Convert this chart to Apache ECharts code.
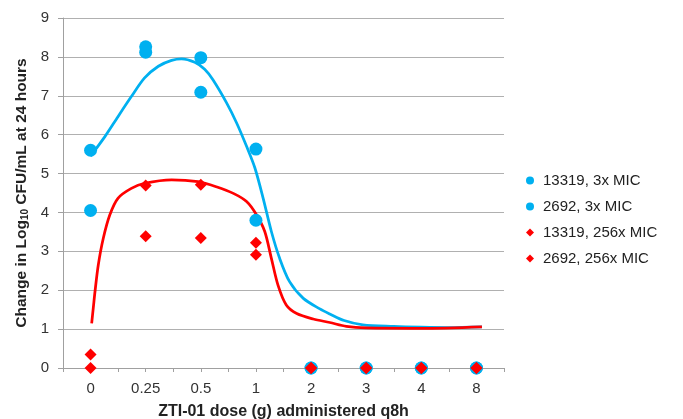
<!DOCTYPE html>
<html>
<head>
<meta charset="utf-8">
<script src="https://cdn.jsdelivr.net/npm/echarts@6/dist/echarts.min.js"></script>
<style>
  html, body { margin: 0; padding: 0; background: #ffffff; }
  #chart { width: 683px; height: 419px; }
</style>
</head>
<body>
<div id="chart"></div>
<script>
// Dose levels shown on the x axis (plotted at evenly spaced positions 0..7)
const doseLabels = ['0', '0.25', '0.5', '1', '2', '3', '4', '8'];
const dosePos = [0, 1, 2, 3, 4, 5, 6, 7];

// Measured change in log10 CFU/mL per dose level
const s13319_3x   = [5.60, 8.26, 7.98, 5.63, 0, 0, 0, 0];
const s2692_3x    = [4.05, 8.12, 7.09, 3.80, 0, 0, 0, 0];
const s13319_256x = [0.35, 4.69, 4.71, 3.22, 0, 0, 0, 0];
const s2692_256x  = [0.00, 3.39, 3.34, 2.91, 0, 0, 0, 0];

// Fitted response curves: [dose position, value]
const fit3x = [
  [0, 5.45], [0.26, 5.95], [0.5, 6.47], [0.74, 6.98], [0.98, 7.46], [1.23, 7.76],
  [1.47, 7.91], [1.65, 7.95], [1.89, 7.86], [2.07, 7.68], [2.22, 7.41], [2.47, 6.81],
  [2.65, 6.30], [2.83, 5.70], [2.98, 5.15], [3.13, 4.37], [3.28, 3.51], [3.43, 2.82],
  [3.61, 2.22], [3.86, 1.79], [4.16, 1.52], [4.34, 1.39], [4.6, 1.22], [4.94, 1.11],
  [5.5, 1.07], [6.0, 1.05], [6.5, 1.04], [7.1, 1.06]
];
const fit256x = [
  [0.02, 1.15], [0.05, 1.55], [0.08, 1.96], [0.14, 2.65], [0.23, 3.33], [0.35, 3.94],
  [0.5, 4.37], [0.74, 4.62], [0.98, 4.75], [1.47, 4.84], [1.95, 4.79], [2.28, 4.66],
  [2.59, 4.49], [2.83, 4.28], [3.01, 3.94], [3.16, 3.51], [3.28, 2.82], [3.40, 2.13],
  [3.55, 1.62], [3.74, 1.40], [4.04, 1.26], [4.34, 1.17], [4.64, 1.07], [5.0, 1.03],
  [6.0, 1.02], [7.1, 1.06]
];

const yTicks = { min: 0, max: 9, step: 1 };

const BLUE = '#00b0f0';
const RED = '#ff0000';
const FONT = '"Liberation Sans", Arial, sans-serif';

const pairs = vals => dosePos.map((p, i) => [p, vals[i]]);

const chart = echarts.init(document.getElementById('chart'), null, { renderer: 'canvas' });

chart.setOption({
  animation: false,
  backgroundColor: '#ffffff',
  textStyle: { fontFamily: FONT },
  grid: { left: 63, right: 179, top: 18, bottom: 51, containLabel: false, outerBoundsMode: 'none' },
  legend: {
    orient: 'vertical',
    left: 521,
    top: 168,
    itemWidth: 8,
    itemHeight: 8,
    itemGap: 11,
    textStyle: { fontFamily: FONT, fontSize: 15, color: '#222', padding: [0, 0, 0, 4] },
    data: [
      { name: '13319, 3x MIC', icon: 'circle' },
      { name: '2692, 3x MIC', icon: 'circle' },
      { name: '13319, 256x MIC', icon: 'diamond' },
      { name: '2692, 256x MIC', icon: 'diamond' }
    ]
  },
  xAxis: {
    type: 'value',
    min: -0.5,
    max: 7.5,
    interval: 0.5,
    name: 'ZTI-01 dose (g) administered q8h',
    nameLocation: 'middle',
    nameGap: 36,
    nameTextStyle: { fontFamily: FONT, fontSize: 16, fontWeight: 'bold', color: '#222' },
    axisLine: { show: true, onZero: false, lineStyle: { color: '#a0a0a0', width: 1 } },
    axisTick: { show: true, length: 4, inside: false, lineStyle: { color: '#a0a0a0' } },
    splitLine: { show: false },
    axisLabel: {
      fontFamily: FONT, fontSize: 15, color: '#333', margin: 13,
      showMinLabel: true, showMaxLabel: true,
      formatter: v => (Number.isInteger(v) && v >= 0 && v < doseLabels.length) ? doseLabels[v] : ''
    }
  },
  yAxis: {
    type: 'value',
    min: yTicks.min,
    max: yTicks.max,
    interval: yTicks.step,
    name: '{n|Change in Log}{s|10}{n| CFU/mL at 24 hours}',
    nameLocation: 'middle',
    nameGap: 31,
    nameRotate: 90,
    nameTextStyle: {
      rich: {
        n: { fontFamily: FONT, fontSize: 15.5, fontWeight: 'bold', color: '#222' },
        s: { fontFamily: FONT, fontSize: 10, fontWeight: 'bold', color: '#222', verticalAlign: 'bottom', padding: [7, 0, 0, 0] }
      }
    },
    axisLine: { show: true, onZero: false, lineStyle: { color: '#a0a0a0', width: 1 } },
    axisTick: { show: true, length: 5, lineStyle: { color: '#a0a0a0' } },
    splitLine: { show: true, lineStyle: { color: '#b0b0b0', width: 1 } },
    axisLabel: { fontFamily: FONT, fontSize: 15, color: '#333', margin: 14 }
  },
  series: [
    {
      name: 'fit3x', type: 'line', data: fit3x, smooth: 0.3, showSymbol: false,
      lineStyle: { color: BLUE, width: 2.75 }, itemStyle: { color: BLUE }, z: 2
    },
    {
      name: 'fit256x', type: 'line', data: fit256x, smooth: 0.3, showSymbol: false,
      lineStyle: { color: RED, width: 2.75 }, itemStyle: { color: RED }, z: 2
    },
    {
      name: '13319, 3x MIC', type: 'scatter', data: pairs(s13319_3x),
      symbol: 'circle', symbolSize: 13, itemStyle: { color: BLUE, opacity: 1 }, z: 3
    },
    {
      name: '2692, 3x MIC', type: 'scatter', data: pairs(s2692_3x),
      symbol: 'circle', symbolSize: 13, itemStyle: { color: BLUE, opacity: 1 }, z: 3
    },
    {
      name: '13319, 256x MIC', type: 'scatter', data: pairs(s13319_256x),
      symbol: 'diamond', symbolSize: 12, itemStyle: { color: RED, opacity: 1 }, z: 4
    },
    {
      name: '2692, 256x MIC', type: 'scatter', data: pairs(s2692_256x),
      symbol: 'diamond', symbolSize: 12, itemStyle: { color: RED, opacity: 1 }, z: 4
    }
  ]
});
</script>
</body>
</html>
